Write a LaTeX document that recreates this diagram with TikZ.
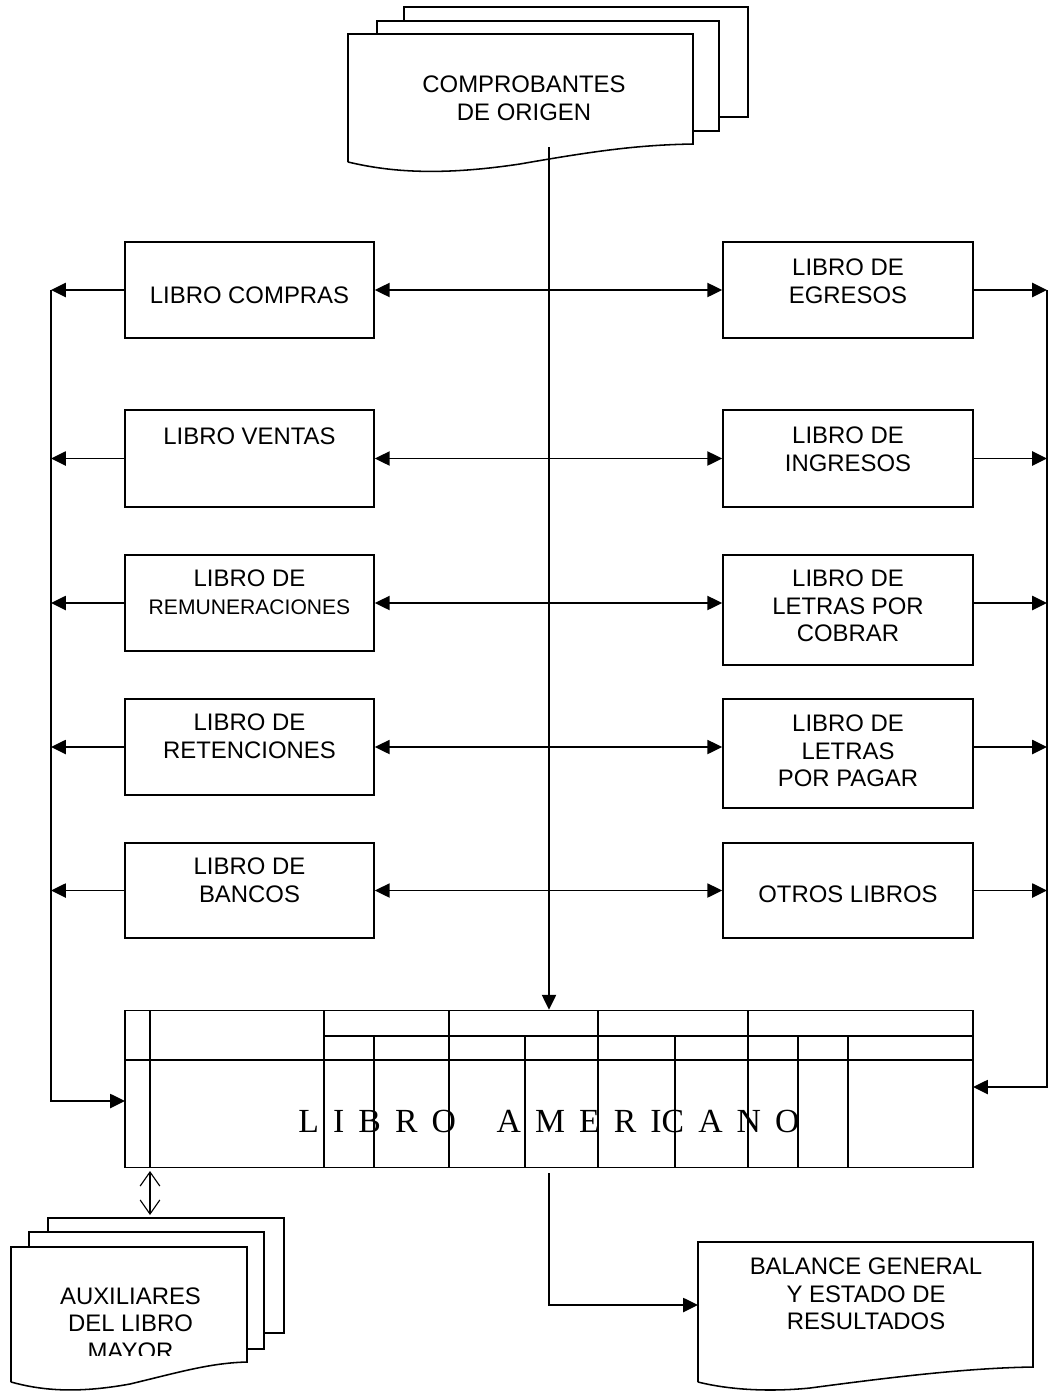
\documentclass[tikz,border=0pt]{standalone}
\usepackage{fontspec}
\setmainfont{Liberation Sans}
\newfontfamily\romana{Liberation Serif}
\usetikzlibrary{arrows.meta}

\begin{document}
\begin{tikzpicture}[x=0.025cm,y=-0.025cm,
    libro/.style={draw,line width=1.1pt,inner sep=0pt,minimum width=6.225cm,minimum height=2.4cm},
    texto/.style={align=center,font=\fontsize{17}{19.6}\selectfont,inner sep=0pt},
    flecha/.style={line width=1.2pt,-{Triangle[length=10.5pt,width=10pt]}},
    doble/.style={line width=1.2pt,{Triangle[length=10.5pt,width=10pt]}-{Triangle[length=10.5pt,width=10pt]}},
    hoja/.style={line width=1.1pt,line join=miter}]
\useasboundingbox (0,0) rectangle (1048,1394);

    % Comprobantes de origen (pila de documentos)
    \draw[hoja] (404,21) -- (404,7) -- (748,7) -- (748,117) -- (719,117);
    \draw[hoja] (377,34) -- (377,21) -- (719,21) -- (719,131) -- (693,131);
    \draw[hoja] (348,162) -- (348,34) -- (693,34) -- (693,144)
        .. controls (640,145) and (600,150) .. (520,164)
        .. controls (440,176) and (390,172) .. (348,162);
    \node[texto] (origen) at (524,98) {COMPROBANTES\\DE ORIGEN};
    \coordinate (origen-sal) at (549,147);

    % Libros principales y auxiliares
    \node[libro] (compras) at (249.5,290) {};
    \node[libro,minimum width=6.25cm] (egresos) at (848,290) {};
    \node[libro,minimum height=2.425cm] (ventas) at (249.5,458.5) {};
    \node[libro,minimum width=6.25cm,minimum height=2.425cm] (ingresos) at (848,458.5) {};
    \node[libro] (remuneraciones) at (249.5,603) {};
    \node[libro,minimum width=6.25cm,minimum height=2.75cm] (cobrar) at (848,610) {};
    \node[libro] (retenciones) at (249.5,747) {};
    \node[libro,minimum width=6.25cm,minimum height=2.725cm] (pagar) at (848,753.5) {};
    \node[libro,minimum height=2.375cm] (bancos) at (249.5,890.5) {};
    \node[libro,minimum width=6.25cm,minimum height=2.375cm] (otros) at (848,890.5) {};

    \node[texto] (compras-t) at (249.5,295) {LIBRO COMPRAS};
    \node[texto] (egresos-t) at (848,281) {LIBRO DE\\EGRESOS};
    \node[texto] (ventas-t) at (249.5,436) {LIBRO VENTAS};
    \node[texto] (ingresos-t) at (848,449.5) {LIBRO DE\\INGRESOS};
    \node[texto] (remuneraciones-t) at (249.5,592.5) {LIBRO DE\\{\fontsize{15}{19.6}\selectfont REMUNERACIONES}};
    \node[texto] (cobrar-t) at (848,606) {LIBRO DE\\LETRAS POR\\COBRAR};
    \node[texto] (retenciones-t) at (249.5,736.5) {LIBRO DE\\RETENCIONES};
    \node[texto] (pagar-t) at (848,751) {LIBRO DE\\LETRAS\\POR PAGAR};
    \node[texto] (bancos-t) at (249.5,880.5) {LIBRO DE\\BANCOS};
    \node[texto] (otros-t) at (848,894) {OTROS LIBROS};

    % Libro americano
    \node[draw,line width=1.1pt,inner sep=0pt,minimum width=21.2cm,minimum height=3.925cm] (americano) at (549,1089) {};
    \draw[line width=1.1pt] (150,1010) -- (150,1168);
    \draw[line width=1.1pt] (125,1060) -- (973,1060);
    \draw[line width=1.1pt] (324,1036) -- (973,1036);
    \foreach \x in {324,449,598,748}
        \draw[line width=1.1pt] (\x,1010) -- (\x,1168);
    \foreach \x in {374,525,675,798,848}
        \draw[line width=1.1pt] (\x,1036) -- (\x,1168);
    \node[inner sep=0pt,font=\romana\fontsize{24}{28}\selectfont] (americano-t) at (549,1121.5)
        {\spaceskip=10pt L I B R O \hspace{19pt}A M E R IC A N O};

    % Auxiliares del libro mayor
    \draw[hoja] (48,1232) -- (48,1218) -- (284,1218) -- (284,1333) -- (264,1333);
    \draw[hoja] (29,1247) -- (29,1232) -- (264,1232) -- (264,1349) -- (247,1349);
    \draw[hoja] (11,1382) -- (11,1247) -- (247,1247) -- (247,1362)
        .. controls (210,1363) and (180,1372) .. (130,1384)
        .. controls (75,1394) and (40,1390) .. (11,1382);
    \begin{scope}
        \clip (11,1247) rectangle (247,1355);
        \node[texto] (auxiliares) at (130.5,1323.5) {AUXILIARES\\DEL LIBRO\\MAYOR};
    \end{scope}

    % Balance general
    \draw[hoja] (698,1382) -- (698,1242) -- (1033,1242) -- (1033,1367)
        .. controls (970,1368) and (900,1376) .. (810,1388)
        .. controls (770,1392) and (730,1390) .. (698,1382);
    \node[texto] (balance) at (866,1294) {BALANCE GENERAL\\Y ESTADO DE\\RESULTADOS};

    % Coordenadas de enlace
    \coordinate (izq) at (51,0);
    \coordinate (der) at (1047,0);
    \coordinate (entra-izq) at (125,1101);
    \coordinate (entra-der) at (973,1087);
    \coordinate (amer-sal) at (549,1173);
    \coordinate (balance-ent) at (698,1305);
    \coordinate (aux-arr) at (150,1171);
    \coordinate (aux-abj) at (150,1215);

    % Flujo principal
    \draw[flecha] (origen-sal) -- (americano.north);
    \draw[flecha] (amer-sal) -- (amer-sal |- balance-ent) -- (balance-ent);
    \draw[line width=0.8pt,{Straight Barb[length=10pt,width=14pt]}-{Straight Barb[length=10pt,width=14pt]}] (aux-arr) -- (aux-abj);

    % Flechas dobles entre libros
    \draw[doble] (compras.east) -- (compras.east -| egresos.west);
    \draw[doble] (ventas.east) -- (ventas.east -| ingresos.west);
    \draw[doble] (remuneraciones.east) -- (remuneraciones.east -| cobrar.west);
    \draw[doble] (retenciones.east) -- (retenciones.east -| pagar.west);
    \draw[doble] (bancos.east) -- (bancos.east -| otros.west);

    % Pases al libro americano (izquierda)
    \draw[flecha] (compras.west) -- (compras.west -| izq);
    \draw[flecha] (ventas.west) -- (ventas.west -| izq);
    \draw[flecha] (remuneraciones.west) -- (remuneraciones.west -| izq);
    \draw[flecha] (retenciones.west) -- (retenciones.west -| izq);
    \draw[flecha] (bancos.west) -- (bancos.west -| izq);
    \draw[flecha] (compras.west -| izq) -- (izq |- entra-izq) -- (entra-izq);

    % Pases al libro americano (derecha)
    \draw[flecha] (egresos.east) -- (egresos.east -| der);
    \draw[flecha] (ingresos.east) -- (ingresos.east -| der);
    \draw[flecha] (cobrar.east |- remuneraciones) -- (remuneraciones -| der);
    \draw[flecha] (pagar.east |- retenciones) -- (retenciones -| der);
    \draw[flecha] (otros.east) -- (otros.east -| der);
    \draw[flecha] (compras -| der) -- (der |- entra-der) -- (entra-der);
\end{tikzpicture}
\end{document}
